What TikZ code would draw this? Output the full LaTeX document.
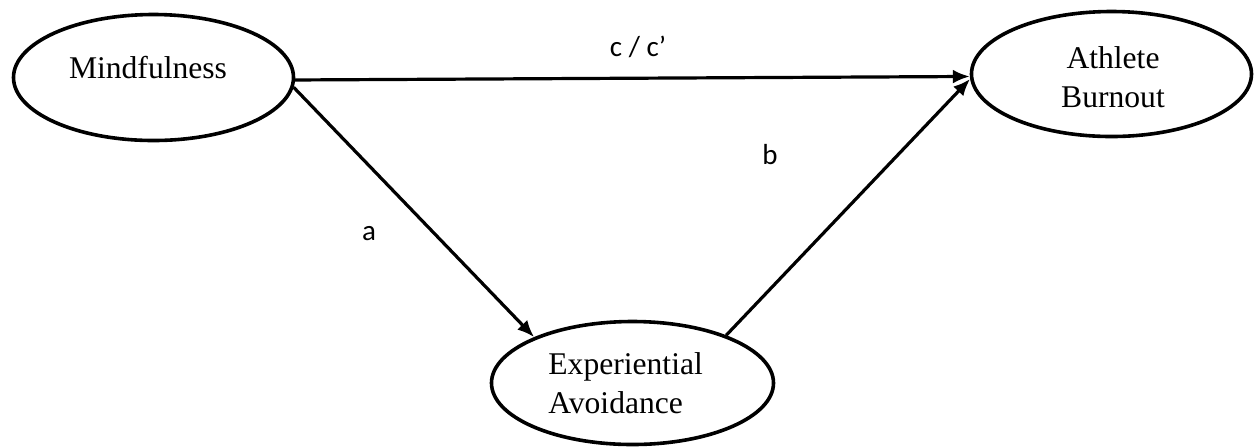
\documentclass[tikz,border=0pt]{standalone}
\usepackage{fontspec}
\setmainfont{Liberation Serif}
\newfontfamily\pathfont{Carlito}
\usepackage{tikz}
\usetikzlibrary{shapes.geometric,arrows.meta}

\begin{document}
\begin{tikzpicture}[
  x=0.5pt, y=-0.5pt,
  var/.style={ellipse, draw, line width=1.8pt, inner sep=0pt},
  vartext/.style={inner sep=0pt, font=\fontsize{15.8}{19.5}\selectfont},
  coef/.style={inner sep=0pt, font=\pathfont\fontsize{14.5}{17}\selectfont},
  arr/.style={-{Latex[length=8.5pt,width=7pt]}, line width=1.6pt}
]
\useasboundingbox (0,0) rectangle (1255,447);
% variables
\node[var, minimum width=140pt, minimum height=63pt] (mind) at (153.5,77.5) {};
\node[var, minimum width=140pt, minimum height=62.5pt] (burn) at (1111.5,74) {};
\node[var, minimum width=141pt, minimum height=61.5pt] (avoid) at (632.5,383) {};
\node[vartext, anchor=base] (mindtxt) at (148,78) {Mindfulness};
\node[vartext, align=center] (burntxt) at (1113,77) {Athlete\\Burnout};
\node[vartext, align=left, anchor=north west] (avoidtxt) at (548,352) {Experiential\\Avoidance};
% paths
\draw[arr] (mind.-1) -- (burn.-179);
\draw[arr] (mind.-4) -- (avoid.155);
\draw[arr] (avoid.27) -- (burn.-178);
% coefficients
\node[coef] (clab) at (638,47) {c / c’};
\node[coef] (alab) at (369,234) {a};
\node[coef] (blab) at (770,155) {b};
\end{tikzpicture}
\end{document}
